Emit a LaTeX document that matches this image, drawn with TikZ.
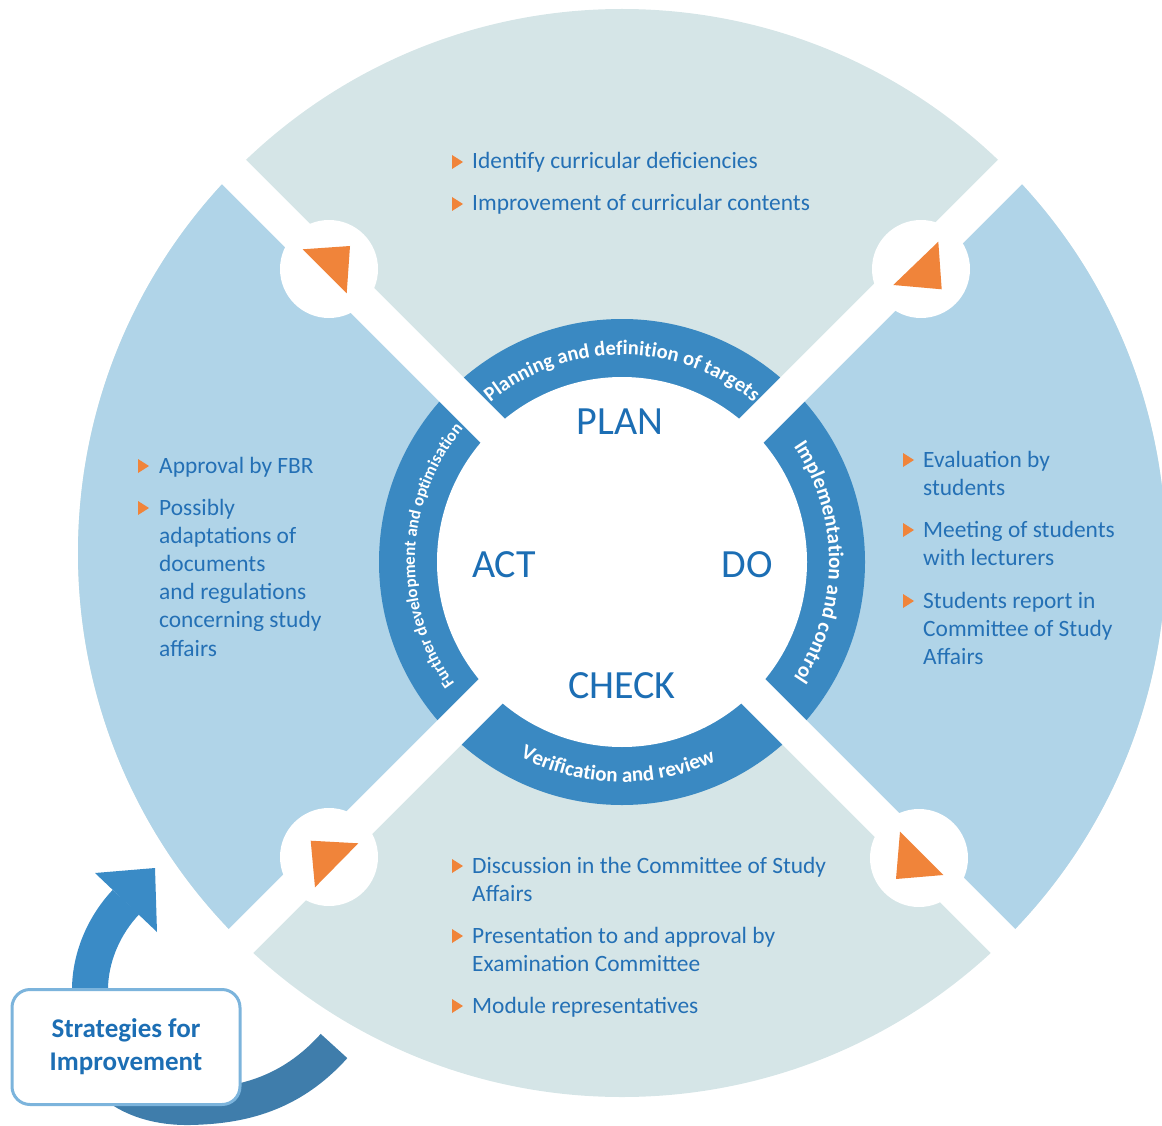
\documentclass[tikz,border=0pt]{standalone}
\usepackage{fontspec}
\setmainfont{Carlito}
\usetikzlibrary{decorations.text}
\definecolor{qgrey}{HTML}{D5E5E7}
\definecolor{qblue}{HTML}{B0D4E8}
\definecolor{ringblue}{HTML}{3A89C2}
\definecolor{txtblue}{HTML}{2470B5}
\definecolor{bigblue}{HTML}{1C6EB4}
\definecolor{orangetri}{HTML}{F0843A}
\definecolor{arrbright}{HTML}{3A8BC6}
\definecolor{arrdark}{HTML}{3F7DAB}
\definecolor{boxline}{HTML}{7CB4DC}
\newcommand\orangebullet[2]{\fill[orangetri] (#1-5,-#2+7) -- (#1+6,-#2) -- (#1-5,-#2-7) -- cycle;}
\begin{document}
\begin{tikzpicture}[x=1pt,y=1pt,
  item/.style={anchor=base west, align=left, inner sep=0pt, text=txtblue, font=\fontsize{23.4}{28.2}\selectfont},
  phase/.style={inner sep=0pt, text=bigblue, font=\fontsize{40}{40}\selectfont},
  stratbox/.style={draw=boxline, line width=3pt, fill=white, rounded corners=18pt, minimum width=228pt, minimum height=115pt, align=center, text=bigblue, font=\fontsize{27}{33}\selectfont\bfseries},
  hole/.style={fill=white},
  tri/.style={fill=orangetri}]
\useasboundingbox (0,0) rectangle (1162,-1126);
% outer quadrants
\coordinate (O) at (622,-553);
\fill[qgrey] (O) circle[radius=544];
\fill[qblue] (O) -- ([shift={(135:544)}]O) arc[start angle=135,end angle=225,radius=544] -- cycle;
\fill[qblue] (O) -- ([shift={(-45:544)}]O) arc[start angle=-45,end angle=45,radius=544] -- cycle;
% ring
\coordinate (C) at (622,-562);
\fill[ringblue] (C) circle[radius=243];
\fill[white] (C) circle[radius=185];
% white bands
\coordinate (B) at (622,-560);
\begin{scope}[shift={(B)}]
  \fill[white, rotate=45] (-620,-17) rectangle (620,17);
  \fill[white, rotate=-45] (-620,-17) rectangle (620,17);
\end{scope}
% circles with triangles
\fill[hole] (329,-269) circle[radius=49];
\fill[hole] (921,-269) circle[radius=49];
\fill[hole] (919,-858) circle[radius=49];
\fill[hole] (329,-857) circle[radius=49];
\fill[tri] (302.7,-249.3) -- (350,-246) -- (346.7,-293.3) -- cycle;
\fill[tri] (938.3,-241.7) -- (941.7,-289.3) -- (893.3,-285) -- cycle;
\fill[tri] (900,-831.7) -- (943.3,-875) -- (896,-879) -- cycle;
\fill[tri] (310.7,-840.7) -- (358.3,-843.3) -- (315,-887.3) -- cycle;
% ring labels
\path[decorate, decoration={text along path, text align=center,
  text={|\fontsize{20.5}{20.5}\selectfont\bfseries\color{white}|Planning and definition of targets}}]
  ([shift={(160.5:207)}]C) arc[start angle=160.5, end angle=19.5, radius=207];
\path[decorate, decoration={text along path, text align=center,
  text={|\fontsize{21}{21}\selectfont\bfseries\color{white}|Implementation and control}}]
  ([shift={(70:207)}]C) arc[start angle=70, end angle=-70, radius=207];
\path[decorate, decoration={text along path, text align=center,
  text={|\fontsize{21}{21}\selectfont\bfseries\color{white}|Verification and review}}]
  ([shift={(198.8:220)}]C) arc[start angle=198.8, end angle=338.8, radius=220];
\path[decorate, decoration={text along path, text align=center,
  text={|\fontsize{17}{17}\selectfont\bfseries\color{white}|Further development and optimisation}}]
  ([shift={(248:207)}]C) arc[start angle=248, end angle=108, radius=207];
% phase words
\node[phase] (plan) at (620,-422) {PLAN};
\node[phase] (do) at (747,-565) {DO};
\node[phase] (check) at (622,-686) {CHECK};
\node[phase] (act) at (504,-565) {ACT};
% top items (anchor = baseline of last line)
\orangebullet{457}{162}
\node[item] (t1) at (472,-169) {Identify curricular deficiencies};
\orangebullet{457}{204}
\node[item] (t2) at (472,-211) {Improvement of curricular contents};
% left items
\orangebullet{143}{466}
\node[item] (l1) at (159,-473) {Approval by FBR};
\orangebullet{143}{508}
\node[item] (l2) at (159,-656) {Possibly\\adaptations of\\documents\\and regulations\\concerning study\\affairs};
% right items
\orangebullet{908}{460}
\node[item] (r1) at (923,-495.2) {Evaluation by\\students};
\orangebullet{908}{530}
\node[item] (r2) at (923,-565.2) {Meeting of students\\with lecturers};
\orangebullet{908}{601}
\node[item] (r3) at (923,-664.4) {Students report in\\Committee of Study\\Affairs};
% bottom items
\orangebullet{457}{866}
\node[item] (b1) at (472,-901.2) {Discussion in the Committee of Study\\Affairs};
\orangebullet{457}{936}
\node[item] (b2) at (472,-971.2) {Presentation to and approval by\\Examination Committee};
\orangebullet{457}{1006}
\node[item] (b3) at (472,-1013) {Module representatives};
% curved arrow
\draw[arrdark, line width=36pt] (92,-1040) .. controls (95,-1085) and (140,-1108) .. (190,-1107) .. controls (240,-1106) and (290,-1095) .. (334,-1046);
\draw[arrbright, line width=36pt] (91,-1045) -- (90,-990) .. controls (90,-955) and (106,-923) .. (126,-902);
\fill[arrbright] (95,-873) -- (155,-868) -- (157,-932) -- cycle;
% strategies box
\node[stratbox] (strat) at (126,-1047) {Strategies for\\Improvement};
\end{tikzpicture}
\end{document}
